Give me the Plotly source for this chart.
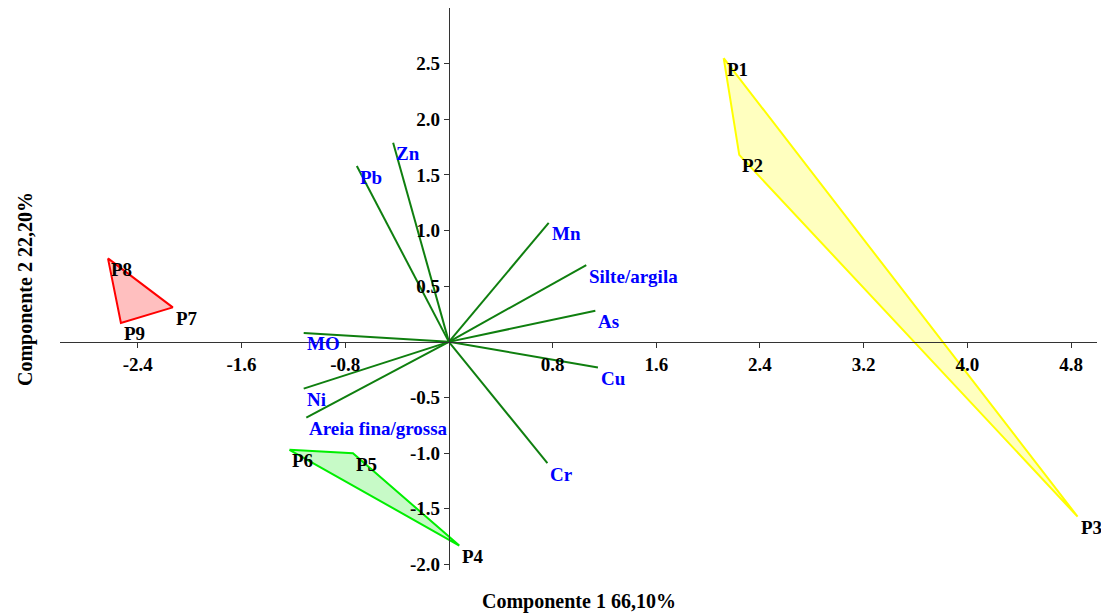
import plotly.graph_objects as go

# ---- data ----
point_names = ["P1", "P2", "P3", "P4", "P5", "P6", "P7", "P8", "P9"]
point_x = [2.12, 2.24, 4.85, 0.08, -0.74, -1.23, -2.13, -2.63, -2.53]
point_y = [2.55, 1.68, -1.57, -1.83, -1.00, -0.97, 0.31, 0.75, 0.17]

group_yellow = ["P1", "P2", "P3"]
group_green = ["P6", "P5", "P4"]
group_red = ["P8", "P7", "P9"]

var_names = ["Zn", "Pb", "MO", "Ni", "Areia fina/grossa", "Mn", "Silte/argila", "As", "Cu", "Cr"]
var_x = [-0.43, -0.71, -1.12, -1.12, -1.10, 0.77, 1.06, 1.13, 1.15, 0.76]
var_y = [1.79, 1.58, 0.08, -0.42, -0.68, 1.07, 0.69, 0.28, -0.23, -1.09]

x_tickvals = [-2.4, -1.6, -0.8, 0.8, 1.6, 2.4, 3.2, 4.0, 4.8]
x_ticktext = ["-2.4", "-1.6", "-0.8", "0.8", "1.6", "2.4", "3.2", "4.0", "4.8"]
y_tickvals = [-2.0, -1.5, -1.0, -0.5, 0.5, 1.0, 1.5, 2.0, 2.5]
y_ticktext = ["-2.0", "-1.5", "-1.0", "-0.5", "0.5", "1.0", "1.5", "2.0", "2.5"]

x_title = "Componente 1 66,10%"
y_title = "Componente 2 22,20%"

x_range = [-3.0, 5.0]
y_range = [-2.05, 3.0]

FONT = "Liberation Serif"

fig = go.Figure()

lookup = {n: (x, y) for n, x, y in zip(point_names, point_x, point_y)}


def hull(names, line_color, fill_color):
    xs = [lookup[n][0] for n in names] + [lookup[names[0]][0]]
    ys = [lookup[n][1] for n in names] + [lookup[names[0]][1]]
    fig.add_trace(go.Scatter(
        x=xs, y=ys, mode="lines", fill="toself",
        fillcolor=fill_color, line=dict(color=line_color, width=2),
        hoverinfo="skip", showlegend=False))


hull(group_yellow, "#FFFF00", "rgba(255,255,0,0.25)")
hull(group_red, "#FF0000", "rgba(255,0,0,0.25)")
hull(group_green, "#00EE00", "rgba(0,230,0,0.22)")

# vectors
vx, vy = [], []
for x, y in zip(var_x, var_y):
    vx += [0, x, None]
    vy += [0, y, None]
fig.add_trace(go.Scatter(x=vx, y=vy, mode="lines",
                         line=dict(color="#0F7F0F", width=2),
                         hoverinfo="skip", showlegend=False))

annotations = []


def label(text, x, y, color):
    annotations.append(dict(
        text=text, x=x, y=y, xref="x", yref="y", showarrow=False,
        xanchor="left", yanchor="middle", xshift=1, yshift=-11,
        font=dict(family=FONT, size=19, color=color, weight="bold")))


for n, x, y in zip(var_names, var_x, var_y):
    label(n, x, y, "#0000FF")
for n, x, y in zip(point_names, point_x, point_y):
    label(n, x, y, "#000000")

ypos_x = (0 - x_range[0]) / (x_range[1] - x_range[0])
xpos_y = (0 - y_range[0]) / (y_range[1] - y_range[0])

tickfont = dict(family=FONT, size=19, color="#000000", weight="bold")

annotations += [
    dict(text=x_title, xref="paper", yref="paper", x=0.5, y=0,
         yshift=-31, yanchor="middle", showarrow=False,
         font=dict(family=FONT, size=20, color="#000000", weight="bold")),
    dict(text=y_title, xref="paper", yref="paper", x=0, y=0.5,
         xshift=-35, xanchor="center", textangle=-90, showarrow=False,
         font=dict(family=FONT, size=20, color="#000000", weight="bold")),
]

fig.update_layout(
    width=1101, height=607,
    margin=dict(l=52, r=12, t=0, b=45, autoexpand=False),
    paper_bgcolor="white", plot_bgcolor="white",
    showlegend=False,
    xaxis=dict(range=x_range, anchor="free", position=xpos_y, automargin=False,
               showline=True, linecolor="#333333", linewidth=1,
               ticks="outside", ticklen=5, tickcolor="#333333",
               tickvals=x_tickvals, ticktext=x_ticktext,
               tickfont=tickfont, showgrid=False, zeroline=False),
    yaxis=dict(range=y_range, anchor="free", position=ypos_x, automargin=False,
               showline=True, linecolor="#333333", linewidth=1,
               ticks="outside", ticklen=5, tickcolor="#333333",
               tickvals=y_tickvals, ticktext=y_ticktext,
               tickfont=tickfont, showgrid=False, zeroline=False),
    annotations=annotations,
)

fig.write_html("out.html")
